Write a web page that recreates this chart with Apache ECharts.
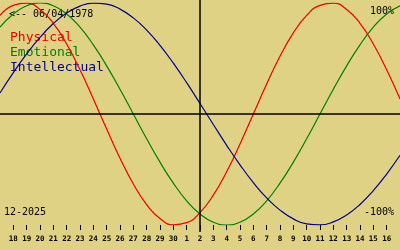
<!DOCTYPE html>
<html><head><meta charset="utf-8">
<script src="https://cdn.jsdelivr.net/npm/echarts@6/dist/echarts.min.js"></script>
<style>html,body{margin:0;padding:0;background:#e0d284;}#c{width:400px;height:250px;}</style>
</head><body><div id="c"></div>
<script>
const days = ['17','18','19','20','21','22','23','24','25','26','27','28','29','30','1','2','3','4','5','6','7','8','9','10','11','12','13','14','15','16','17'];
const physical = [88.8,97.9,99.8,94.2,81.7,63.1,39.8,13.6,-13.6,-39.8,-63.1,-81.7,-94.2,-99.8,-97.9,-88.8,-73.1,-52.0,-27.0,0,27.0,52.0,73.1,88.8,97.9,99.8,94.2,81.7,63.1,39.8,13.6];
const emotional = [78.2,90.1,97.5,100,97.5,90.1,78.2,62.3,43.4,22.3,0,-22.3,-43.4,-62.3,-78.2,-90.1,-97.5,-100,-97.5,-90.1,-78.2,-62.3,-43.4,-22.3,0,22.3,43.4,62.3,78.2,90.1,97.5];
const intellectual = [18.9,37.2,54.1,69.0,81.5,91.0,97.2,99.9,99.0,94.5,86.6,75.6,61.8,45.8,28.2,9.5,-9.5,-28.2,-45.8,-61.8,-75.6,-86.6,-94.5,-99.0,-99.9,-97.2,-91.0,-81.5,-69.0,-54.1,-37.2];
const centerDay = '2';
const birth = '<-- 06/04/1978';
const monthLabel = '12-2025';
const names = ['Physical','Emotional','Intellectual'];
const colors = ['#ee0000','#008000','#000090'];

const chart = echarts.init(document.getElementById('c'), null, {renderer:'canvas'});
const mono = 'DejaVu Sans Mono';
const showIdx = (i) => i > 0 && i < days.length - 1;
const mk = (name, data, color, extra) => Object.assign({
  name, type:'line', data, smooth:true, symbol:'none',
  lineStyle:{color, width:1.2}, itemStyle:{color}, animation:false, z:3
}, extra||{});
chart.setOption({
  backgroundColor:'#e0d284',
  animation:false,
  grid:{left:0,right:0,top:3,bottom:25},
  xAxis:{type:'category', data:days, boundaryGap:false,
    axisLine:{show:false, onZero:false},
    axisTick:{show:true, length:5, interval:(i)=>showIdx(i), lineStyle:{color:'#000',width:1}},
    axisLabel:{interval:(i)=>showIdx(i), margin:10, color:'#000', fontFamily:mono, fontSize:7.5, fontWeight:'bold'},
    splitLine:{show:false}},
  yAxis:{type:'value', min:-100, max:100, show:false, splitLine:{show:false}},
  series:[
    mk(names[0], physical, colors[0], {markLine:{silent:true, symbol:'none', label:{show:false},
      lineStyle:{color:'#000', width:1.5, type:'solid'}, data:[{yAxis:0}]}}),
    mk(names[1], emotional, colors[1]),
    mk(names[2], intellectual, colors[2])
  ]
});
const cx = chart.convertToPixel({xAxisIndex:0}, centerDay);
chart.setOption({graphic:[
  {type:'line', shape:{x1:cx, y1:0, x2:cx, y2:232}, style:{stroke:'#000', lineWidth:1.5}, z:10},
  {type:'text', left:9, top:9, style:{text:birth, fill:'#000', font:'10px "DejaVu Sans Mono"'}},
  {type:'text', left:10, top:31, style:{text:names[0], fill:colors[0], font:'13px "DejaVu Sans Mono"'}},
  {type:'text', left:10, top:46, style:{text:names[1], fill:colors[1], font:'13px "DejaVu Sans Mono"'}},
  {type:'text', left:10, top:61, style:{text:names[2], fill:colors[2], font:'13px "DejaVu Sans Mono"'}},
  {type:'text', right:6, top:6, style:{text:'100%', fill:'#000', font:'10px "DejaVu Sans Mono"'}},
  {type:'text', right:6, top:207, style:{text:'-100%', fill:'#000', font:'10px "DejaVu Sans Mono"'}},
  {type:'text', left:4, top:207, style:{text:monthLabel, fill:'#000', font:'10px "DejaVu Sans Mono"'}}
]});
</script></body></html>
